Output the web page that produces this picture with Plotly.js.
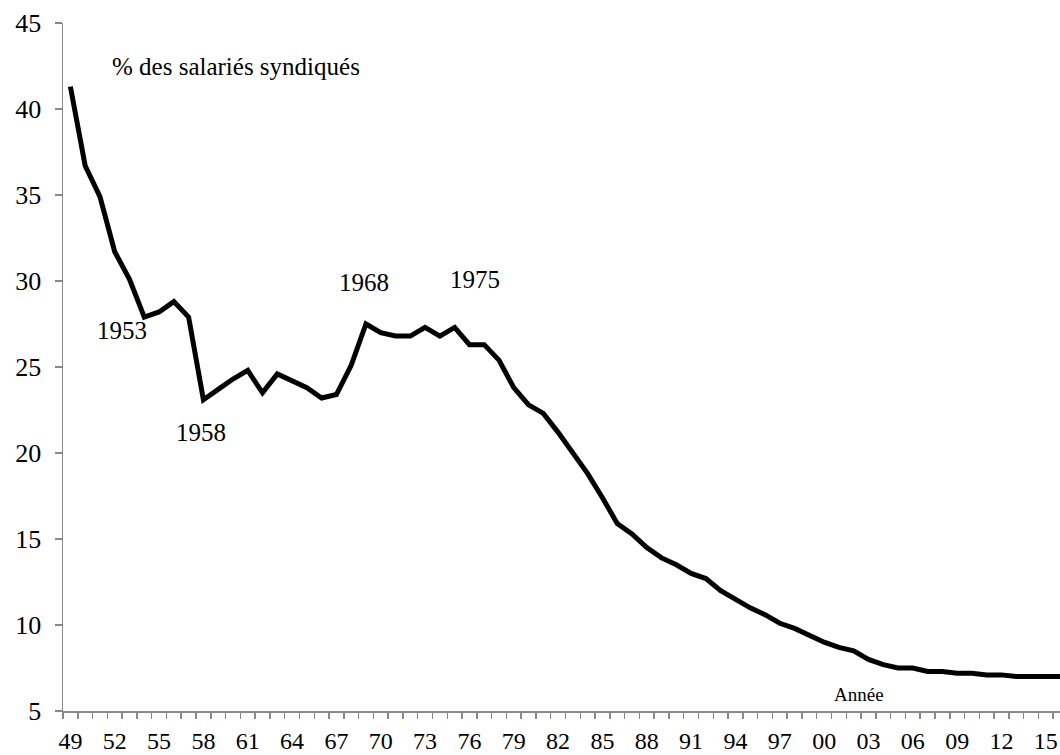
<!DOCTYPE html>
<html>
<head>
<meta charset="utf-8">
<script src="https://cdn.plot.ly/plotly-3.0.1.min.js"></script>
<style>
  html, body { margin: 0; padding: 0; background: #ffffff; }
  #chart { width: 1060px; height: 755px; }
</style>
</head>
<body>
<div id="chart"></div>
<script>
// Union density in France (% of employees unionised)
const years = [1949, 1950, 1951, 1952, 1953, 1954, 1955, 1956, 1957, 1958,
  1959, 1960, 1961, 1962, 1963, 1964, 1965, 1966, 1967, 1968,
  1969, 1970, 1971, 1972, 1973, 1974, 1975, 1976, 1977, 1978,
  1979, 1980, 1981, 1982, 1983, 1984, 1985, 1986, 1987, 1988,
  1989, 1990, 1991, 1992, 1993, 1994, 1995, 1996, 1997, 1998,
  1999, 2000, 2001, 2002, 2003, 2004, 2005, 2006, 2007, 2008,
  2009, 2010, 2011, 2012, 2013, 2014, 2015, 2016];

const density = [41.3, 36.7, 34.9, 31.7, 30.1, 27.9, 28.2, 28.8, 27.9, 23.1,
  23.7, 24.3, 24.8, 23.5, 24.6, 24.2, 23.8, 23.2, 23.4, 25.1,
  27.5, 27.0, 26.8, 26.8, 27.3, 26.8, 27.3, 26.3, 26.3, 25.4,
  23.8, 22.8, 22.3, 21.2, 20.0, 18.8, 17.4, 15.9, 15.3, 14.5,
  13.9, 13.5, 13.0, 12.7, 12.0, 11.5, 11.0, 10.6, 10.1, 9.8,
  9.4, 9.0, 8.7, 8.5, 8.0, 7.7, 7.5, 7.5, 7.3, 7.3,
  7.2, 7.2, 7.1, 7.1, 7.0, 7.0, 7.0, 7.0];

const xTickVals = [1949, 1952, 1955, 1958, 1961, 1964, 1967, 1970, 1973, 1976,
  1979, 1982, 1985, 1988, 1991, 1994, 1997, 2000, 2003, 2006, 2009, 2012, 2015];
const xTickText = ['49', '52', '55', '58', '61', '64', '67', '70', '73', '76',
  '79', '82', '85', '88', '91', '94', '97', '00', '03', '06', '09', '12', '15'];

const yTickVals = [5, 10, 15, 20, 25, 30, 35, 40, 45];

const labelTexts = ['% des salariés syndiqués', '1953', '1958', '1968', '1975', 'Année'];

const FONT = 'Liberation Serif';
const AXIS_COLOR = '#888888';

const trace = {
  type: 'scatter',
  mode: 'lines',
  x: years,
  y: density,
  line: { color: '#000000', width: 5 },
  hoverinfo: 'x+y'
};

const layout = {
  width: 1060,
  height: 755,
  margin: { l: 63, r: 0, t: 23, b: 44 },
  paper_bgcolor: '#ffffff',
  plot_bgcolor: '#ffffff',
  showlegend: false,
  font: { family: FONT, size: 25, color: '#000000' },
  xaxis: {
    range: [1948.5, 2015.96],
    tickmode: 'array',
    tickvals: xTickVals,
    ticktext: xTickText,
    ticks: '',
    ticklabelstandoff: 8,
    tickfont: { family: FONT, size: 24, color: '#000000' },
    showgrid: false,
    zeroline: false,
    showline: true,
    linecolor: AXIS_COLOR,
    linewidth: 1.5,
    minor: {
      tick0: 1948.5,
      dtick: 1,
      ticks: 'outside',
      ticklen: 6,
      tickwidth: 1.5,
      tickcolor: AXIS_COLOR,
      showgrid: false
    },
    fixedrange: true
  },
  yaxis: {
    range: [5, 45],
    tickmode: 'array',
    tickvals: yTickVals,
    ticks: 'outside',
    ticklen: 7,
    tickwidth: 1.5,
    tickcolor: AXIS_COLOR,
    ticklabelstandoff: 8,
    tickfont: { family: FONT, size: 26, color: '#000000' },
    showgrid: false,
    zeroline: false,
    showline: true,
    linecolor: AXIS_COLOR,
    linewidth: 1.5,
    fixedrange: true
  },
  annotations: [
    { text: labelTexts[0], x: 1951.7, y: 42.45, xref: 'x', yref: 'y', xanchor: 'left', yanchor: 'middle', showarrow: false, font: { family: FONT, size: 25, color: '#000000' } },
    { text: labelTexts[1], x: 1952.47, y: 27.1, xref: 'x', yref: 'y', xanchor: 'center', yanchor: 'middle', showarrow: false, font: { family: FONT, size: 25, color: '#000000' } },
    { text: labelTexts[2], x: 1957.82, y: 21.17, xref: 'x', yref: 'y', xanchor: 'center', yanchor: 'middle', showarrow: false, font: { family: FONT, size: 25, color: '#000000' } },
    { text: labelTexts[3], x: 1968.85, y: 29.92, xref: 'x', yref: 'y', xanchor: 'center', yanchor: 'middle', showarrow: false, font: { family: FONT, size: 25, color: '#000000' } },
    { text: labelTexts[4], x: 1976.38, y: 30.07, xref: 'x', yref: 'y', xanchor: 'center', yanchor: 'middle', showarrow: false, font: { family: FONT, size: 25, color: '#000000' } },
    { text: labelTexts[5], x: 2002.36, y: 5.95, xref: 'x', yref: 'y', xanchor: 'center', yanchor: 'middle', showarrow: false, font: { family: FONT, size: 19, color: '#000000' } }
  ]
};

Plotly.newPlot('chart', [trace], layout, { displayModeBar: false, staticPlot: true });
</script>
</body>
</html>
